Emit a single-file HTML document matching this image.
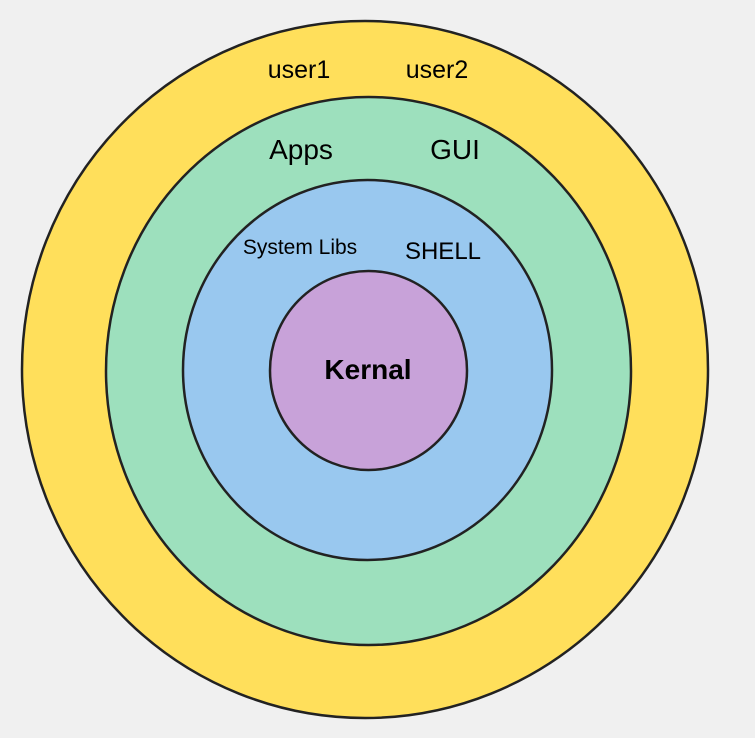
<!DOCTYPE html>
<html><head><style>
html,body{margin:0;padding:0;background:#f0f0f0;}
svg{display:block;}
text{font-family:"Liberation Sans",sans-serif;fill:#000;}
</style></head><body>
<svg width="755" height="738" viewBox="0 0 755 738">
<rect width="755" height="738" fill="#f0f0f0"/>
<ellipse cx="365" cy="369.5" rx="343" ry="348.5" fill="#ffdf5b" stroke="#222" stroke-width="2.5"/>
<ellipse cx="368.5" cy="371" rx="262.5" ry="274" fill="#9de0bd" stroke="#222" stroke-width="2.5"/>
<ellipse cx="367.5" cy="370" rx="184.5" ry="190" fill="#99c8ef" stroke="#222" stroke-width="2.5"/>
<ellipse cx="368.5" cy="370.5" rx="98.5" ry="99.5" fill="#c8a2d9" stroke="#222" stroke-width="2.5"/>
<text x="299" y="78" font-size="25" text-anchor="middle">user1</text>
<text x="437" y="78" font-size="25" text-anchor="middle">user2</text>
<text x="301" y="159" font-size="28" text-anchor="middle">Apps</text>
<text x="455" y="159" font-size="28" text-anchor="middle">GUI</text>
<text x="300" y="254" font-size="21" text-anchor="middle">System Libs</text>
<text x="443" y="259" font-size="24" text-anchor="middle">SHELL</text>
<text x="368" y="379" font-size="28" font-weight="bold" text-anchor="middle">Kernal</text>
</svg>
</body></html>
